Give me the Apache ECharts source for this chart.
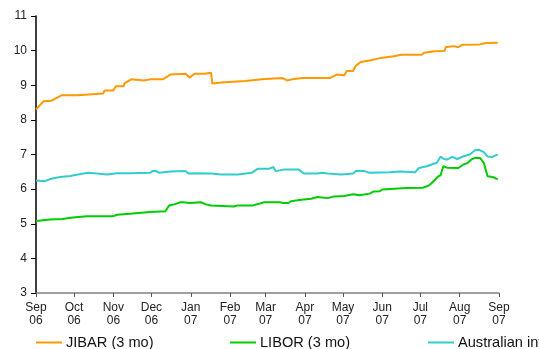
<!DOCTYPE html>
<html>
<head>
<meta charset="utf-8">
<script src="https://cdn.jsdelivr.net/npm/echarts@6/dist/echarts.min.js"></script>
<style>
  html, body { margin: 0; padding: 0; background: #fff; }
  #chart { width: 539px; height: 349px; }
</style>
</head>
<body>
<div id="chart"></div>
<script>
// 3-month interbank rates, Sep 2006 - Sep 2007 (% p.a.)
const jibar = [
  ['2006-09-01', 8.30], ['2006-09-07', 8.54], ['2006-09-13', 8.55], ['2006-09-21', 8.71],
  ['2006-10-04', 8.71], ['2006-10-05', 8.76], ['2006-10-24', 8.76], ['2006-10-25', 8.85],
  ['2006-11-01', 8.85], ['2006-11-03', 8.97], ['2006-11-09', 8.97], ['2006-11-10', 9.06],
  ['2006-11-15', 9.17], ['2006-11-25', 9.14], ['2006-11-30', 9.17], ['2006-12-10', 9.17],
  ['2006-12-16', 9.31], ['2006-12-28', 9.33], ['2006-12-31', 9.22], ['2007-01-04', 9.33],
  ['2007-01-12', 9.33], ['2007-01-17', 9.36], ['2007-01-18', 9.05], ['2007-01-25', 9.08],
  ['2007-02-13', 9.12], ['2007-02-26', 9.17], ['2007-03-14', 9.21], ['2007-03-18', 9.14],
  ['2007-03-22', 9.17], ['2007-03-30', 9.21], ['2007-04-21', 9.21], ['2007-04-26', 9.31],
  ['2007-05-02', 9.29], ['2007-05-04', 9.41], ['2007-05-09', 9.41], ['2007-05-11', 9.56],
  ['2007-05-15', 9.67], ['2007-05-23', 9.72], ['2007-05-31', 9.79], ['2007-06-10', 9.84],
  ['2007-06-16', 9.88], ['2007-07-02', 9.88], ['2007-07-04', 9.94], ['2007-07-12', 9.98],
  ['2007-07-20', 9.99], ['2007-07-21', 10.10], ['2007-07-27', 10.13], ['2007-07-31', 10.10],
  ['2007-08-03', 10.17], ['2007-08-17', 10.18], ['2007-08-22', 10.22], ['2007-08-31', 10.23]
];

const libor = [
  ['2006-09-01', 5.08], ['2006-09-12', 5.12], ['2006-09-22', 5.14], ['2006-09-30', 5.18],
  ['2006-10-11', 5.22], ['2006-11-01', 5.22], ['2006-11-04', 5.26], ['2006-11-14', 5.29],
  ['2006-11-30', 5.34], ['2006-12-12', 5.36], ['2006-12-13', 5.40], ['2006-12-15', 5.53],
  ['2006-12-19', 5.56], ['2006-12-24', 5.62], ['2006-12-26', 5.62], ['2006-12-27', 5.58],
  ['2006-12-31', 5.60], ['2007-01-09', 5.62], ['2007-01-13', 5.56], ['2007-01-17', 5.53],
  ['2007-02-04', 5.50], ['2007-02-07', 5.53], ['2007-02-19', 5.53], ['2007-02-28', 5.62],
  ['2007-03-12', 5.62], ['2007-03-15', 5.60], ['2007-03-19', 5.60], ['2007-03-21', 5.65],
  ['2007-03-29', 5.69], ['2007-04-06', 5.72], ['2007-04-11', 5.77], ['2007-04-19', 5.74],
  ['2007-04-24', 5.79], ['2007-05-02', 5.80], ['2007-05-09', 5.85], ['2007-05-14', 5.82],
  ['2007-05-22', 5.87], ['2007-05-25', 5.93], ['2007-05-30', 5.94], ['2007-06-01', 5.99],
  ['2007-06-20', 6.03], ['2007-07-03', 6.04], ['2007-07-08', 6.11], ['2007-07-12', 6.25],
  ['2007-07-15', 6.37], ['2007-07-17', 6.40], ['2007-07-19', 6.66], ['2007-07-22', 6.62],
  ['2007-07-31', 6.61], ['2007-08-04', 6.71], ['2007-08-07', 6.75], ['2007-08-10', 6.85],
  ['2007-08-13', 6.90], ['2007-08-17', 6.90], ['2007-08-20', 6.76], ['2007-08-21', 6.73],
  ['2007-08-23', 6.37], ['2007-08-27', 6.35], ['2007-08-31', 6.28]
];

const australian = [
  ['2006-09-01', 6.25], ['2006-09-08', 6.23], ['2006-09-13', 6.30], ['2006-09-20', 6.35],
  ['2006-09-28', 6.38], ['2006-10-04', 6.42], ['2006-10-12', 6.47], ['2006-10-19', 6.45],
  ['2006-10-27', 6.42], ['2006-11-04', 6.46], ['2006-11-14', 6.46], ['2006-11-30', 6.47],
  ['2006-12-02', 6.52], ['2006-12-05', 6.52], ['2006-12-07', 6.47], ['2006-12-16', 6.51],
  ['2006-12-28', 6.52], ['2006-12-30', 6.45], ['2007-01-04', 6.46], ['2007-01-17', 6.45],
  ['2007-01-25', 6.42], ['2007-02-07', 6.42], ['2007-02-18', 6.47], ['2007-02-23', 6.59],
  ['2007-03-04', 6.59], ['2007-03-07', 6.64], ['2007-03-09', 6.52], ['2007-03-16', 6.57],
  ['2007-03-27', 6.57], ['2007-03-31', 6.45], ['2007-04-11', 6.45], ['2007-04-14', 6.47],
  ['2007-04-19', 6.45], ['2007-04-30', 6.42], ['2007-05-09', 6.45], ['2007-05-11', 6.52],
  ['2007-05-18', 6.52], ['2007-05-22', 6.47], ['2007-06-07', 6.49], ['2007-06-15', 6.51],
  ['2007-06-27', 6.49], ['2007-06-30', 6.61], ['2007-07-06', 6.66], ['2007-07-14', 6.76],
  ['2007-07-17', 6.94], ['2007-07-19', 6.88], ['2007-07-22', 6.85], ['2007-07-26', 6.93],
  ['2007-07-30', 6.87], ['2007-08-04', 6.95], ['2007-08-09', 7.00], ['2007-08-13', 7.12],
  ['2007-08-16', 7.14], ['2007-08-20', 7.07], ['2007-08-23', 6.94], ['2007-08-27', 6.93],
  ['2007-08-30', 6.99], ['2007-08-31', 6.98]
];

const seriesNames = ['JIBAR (3 mo)', 'LIBOR (3 mo)', 'Australian interbank (3 mo)'];
const seriesColors = ['#FF9900', '#00CC00', '#33CCCC'];
const monthNames = ['Jan', 'Feb', 'Mar', 'Apr', 'May', 'Jun', 'Jul', 'Aug', 'Sep', 'Oct', 'Nov', 'Dec'];
const yMin = 3, yMax = 11, yStep = 1;

const font = 'Liberation Sans, Arial, sans-serif';
const DAY = 86400000;

const chart = echarts.init(document.getElementById('chart'), null, { renderer: 'canvas' });

function legendAt(name, left) {
  return {
    data: [name],
    left: left,
    top: 335,
    icon: 'path://M0,0 L26,0 L26,2 L0,2 Z',
    itemWidth: 26,
    itemHeight: 2,
    itemGap: 0,
    textStyle: { fontFamily: font, fontSize: 14.6, color: '#111', padding: [0, 0, 0, -1] },
    padding: 0,
    selectedMode: false
  };
}

chart.setOption({
  animation: false,
  backgroundColor: '#fff',
  color: seriesColors,
  grid: { left: 36, top: 16, width: 463, height: 277, containLabel: false },
  legend: [
    legendAt(seriesNames[0], 36),
    legendAt(seriesNames[1], 230),
    legendAt(seriesNames[2], 428)
  ],
  xAxis: {
    type: 'time',
    min: '2006-09-01',
    max: '2007-09-01',
    minInterval: 28 * DAY,
    maxInterval: 31 * DAY,
    splitNumber: 12,
    axisLine: { show: true, lineStyle: { color: '#808080', width: 1.5 } },
    axisTick: { show: true, inside: false, length: 4, lineStyle: { color: '#555' } },
    splitLine: { show: false },
    axisLabel: {
      fontFamily: font,
      fontSize: 12,
      lineHeight: 13,
      color: '#222',
      margin: 8,
      hideOverlap: false,
      showMinLabel: true,
      showMaxLabel: true,
      formatter: function (value) {
        const d = new Date(value);
        const yy = String(d.getFullYear()).slice(2);
        return monthNames[d.getMonth()] + '\n' + yy;
      }
    }
  },
  yAxis: {
    type: 'value',
    min: yMin,
    max: yMax,
    interval: yStep,
    axisLine: { show: true, lineStyle: { color: '#000', width: 1.5 } },
    axisTick: { show: true, inside: false, length: 5, lineStyle: { color: '#000' } },
    splitLine: { show: false },
    axisLabel: { fontFamily: font, fontSize: 12, color: '#222', margin: 9 }
  },
  series: [
    { name: seriesNames[0], type: 'line', data: jibar, symbol: 'none', lineStyle: { width: 2 }, z: 3 },
    { name: seriesNames[1], type: 'line', data: libor, symbol: 'none', lineStyle: { width: 2 }, z: 3 },
    { name: seriesNames[2], type: 'line', data: australian, symbol: 'none', lineStyle: { width: 2 }, z: 3 }
  ]
});
</script>
</body>
</html>
